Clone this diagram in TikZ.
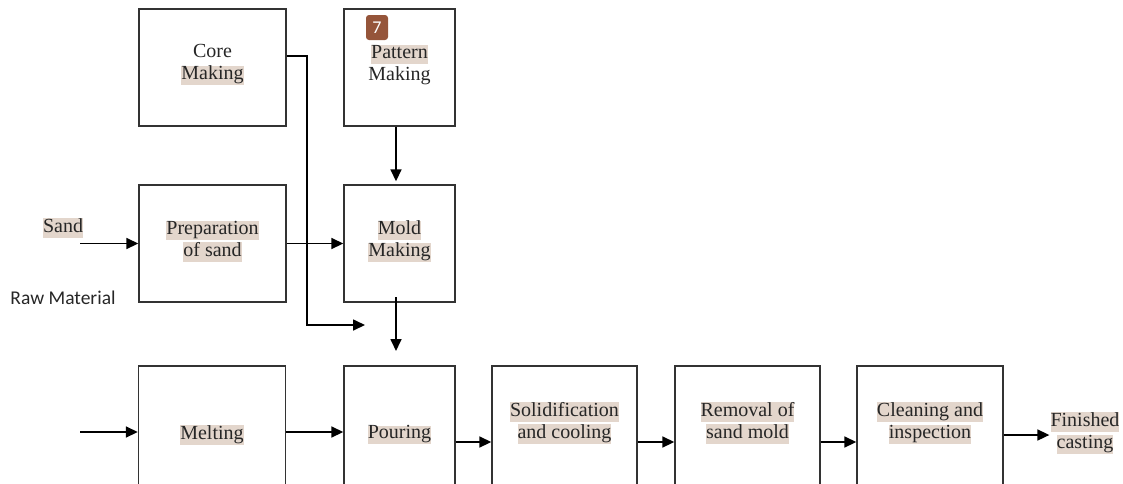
\documentclass[tikz,border=0pt]{standalone}
\usepackage{fontspec}
\setmainfont{Liberation Serif}
\newfontfamily\rawfont{Carlito}
\usetikzlibrary{arrows.meta}
\definecolor{hlbg}{HTML}{E3D6CC}
\definecolor{badgebg}{HTML}{95553A}
\newcommand{\hl}[1]{{\setlength{\fboxsep}{0pt}\colorbox{hlbg}{\rule[-5.5pt]{0pt}{16pt}#1}}}

\begin{document}
\begin{tikzpicture}[x=1pt, y=-1pt,
	box/.style={draw=black!80, line width=1.4pt, minimum width=147pt, minimum height=117pt, inner sep=0pt},
	nbox/.style={box, minimum width=111pt},
	lowbox/.style={box, minimum height=124pt},
	txt/.style={align=center, inner sep=1pt, text=black!85, font=\fontsize{20}{22}\selectfont},
	arr/.style={line width=1.7pt, -{Triangle[length=12pt, width=11pt]}}]
	\useasboundingbox (0,0) rectangle (1123,483);
	
	% Top row
	\node[box] (core) at (212.5,67.5) {};
	\node[nbox] (patt) at (399.5,67.5) {};
	\node[txt] (coretxt) at ([yshift=2.5pt]core.center) {Core\\\hl{Making}};
	\node[txt] (patttxt) at ([yshift=2.5pt]patt.center) {\hl{Pattern}\\Making};
	\node[fill=badgebg, rounded corners=3pt, text=white, font=\rawfont\fontsize{18}{18}\selectfont,
		minimum width=22pt, minimum height=25pt, inner sep=0pt] (badge) at (377,27.5) {7};
	
	% Middle row
	\node[box] (prep) at (212.5,243.5) {};
	\node[nbox] (mold) at (399.5,243.5) {};
	\node[txt] (preptxt) at ([yshift=2pt]prep.center) {\hl{Preparation}\\\hl{of sand}};
	\node[txt] (moldtxt) at ([yshift=2pt]mold.center) {\hl{Mold}\\\hl{Making}};
	\node[txt] (sand) at (63,228) {\hl{Sand}};
	\node[txt, font=\rawfont\fontsize{19.5}{22}\selectfont] (raw) at (63,298) {Raw Material};
	
	% Bottom row
	\node[lowbox] (melt) at (212,428) {};
	\node[lowbox, minimum width=111pt] (pour) at (399.5,428) {};
	\node[lowbox, minimum width=145pt] (soli) at (564.5,428) {};
	\node[lowbox, minimum width=145pt] (remo) at (747.5,428) {};
	\node[lowbox, minimum width=146pt] (clea) at (930,428) {};
	\node[txt] at ([yshift=-7pt]melt.center) {\hl{Melting}};
	\node[txt] at ([yshift=-7pt]pour.center) {\hl{Pouring}};
	\node[txt] at ([yshift=5pt]soli.center) {\hl{Solidification}\\\hl{and cooling}};
	\node[txt] at ([yshift=5pt]remo.center) {\hl{Removal of}\\\hl{sand mold}};
	\node[txt] at ([yshift=5pt]clea.center) {\hl{Cleaning and}\\\hl{inspection}};
	\node[txt] (fini) at (1085,433) {\hl{Finished}\\\hl{casting}};
	
	% Free ends
	\coordinate (sandin) at (80,243.5);
	\coordinate (meltin) at (80,432);
	\coordinate (cturn) at (307,325);
	\coordinate (cend) at (365,325);
	\coordinate (mstart) at (396,297);
	\coordinate (mend) at (396,351);
	
	% Connectors
	\draw[arr] (sandin) -- (prep.west);
	\draw[arr] (prep.east) -- (mold.west);
	\draw[arr] ([yshift=11.5pt]core.east) -| (cturn) -- (cend);
	\draw[arr, shorten >=3pt] ([xshift=-3.5pt]patt.south) -- ([xshift=-3.5pt]mold.north);
	\draw[arr] (mstart) -- (mend);
	\draw[arr] (meltin) -- ([yshift=-4pt]melt.west);
	\draw[arr] ([yshift=-4pt]melt.east) -- ([yshift=-4pt]pour.west);
	\draw[arr] ([yshift=-14pt]pour.east) -- ([yshift=-14pt]soli.west);
	\draw[arr] ([yshift=-14pt]soli.east) -- ([yshift=-14pt]remo.west);
	\draw[arr] ([yshift=-14pt]remo.east) -- ([yshift=-14pt]clea.west);
	\draw[arr] ([yshift=-7pt]clea.east) -- (fini.west |- 0,435);
\end{tikzpicture}
\end{document}
